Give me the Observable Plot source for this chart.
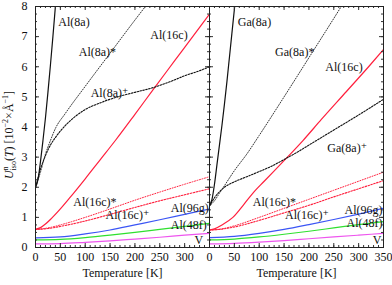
<!DOCTYPE html>
<html><head><meta charset="utf-8">
<script src="https://cdn.jsdelivr.net/npm/d3@7"></script>
<script src="https://cdn.jsdelivr.net/npm/@observablehq/plot@0.6"></script>
<style>
body{margin:0;background:#fff;}
#c{position:relative;width:392px;height:285px;overflow:hidden;font-family:"Liberation Serif","Times New Roman","DejaVu Serif",serif;}
#c svg{position:absolute;top:0;overflow:visible;}
#c svg text{font-family:"Liberation Serif","Times New Roman","DejaVu Serif",serif !important;}
</style>
</head><body><div id="c"></div>
<script>
// ---------- data: [Temperature K, U (10^-2 Å^-1)] ----------
// Left panel (Al compound)
const L_Al8a      = [[0,2.0],[5,2.25],[10,2.85],[15,3.55],[20,4.3],[25,5.15],[30,6.05],[35,7.0],[40,8.0],[45,9.0]];
const L_Al8a_star = [[0,2.0],[10,2.5],[20,3.1],[30,3.55],[40,3.95],[60,4.45],[100,5.35],[150,6.45],[200,7.55],[221,8.0],[240,8.4]];
const L_Al8a_plus = [[0,2.0],[10,2.6],[20,3.05],[30,3.4],[40,3.65],[60,4.05],[80,4.35],[100,4.58],[130,4.8],[165,5.0],[200,5.15],[237,5.31],[270,5.5],[300,5.7],[332,5.88],[350,6.0]];
const L_Al16c     = [[0,0.6],[10,0.66],[20,0.78],[30,0.93],[50,1.28],[70,1.67],[100,2.28],[130,2.91],[161,3.56],[200,4.42],[237,5.25],[280,6.2],[332,7.35],[350,7.75]];
const L_Al16c_star= [[0,0.6],[25,0.65],[50,0.75],[100,1.0],[150,1.28],[200,1.57],[250,1.84],[300,2.1],[350,2.35]];
const L_Al16c_plus= [[0,0.6],[25,0.63],[50,0.7],[100,0.88],[150,1.1],[200,1.33],[250,1.55],[300,1.75],[350,1.95]];
const L_Al96g     = [[0,0.32],[50,0.35],[100,0.45],[150,0.58],[200,0.75],[250,0.92],[300,1.1],[350,1.28]];
const L_Al48f     = [[0,0.25],[50,0.27],[100,0.33],[150,0.41],[200,0.5],[250,0.6],[300,0.7],[350,0.8]];
const L_V         = [[0,0.12],[50,0.13],[100,0.17],[150,0.22],[200,0.28],[250,0.34],[300,0.41],[350,0.47]];
// Right panel (Ga compound)
const R_Ga8a      = [[0,1.38],[5,1.6],[10,2.1],[15,2.75],[20,3.4],[25,4.05],[30,4.75],[35,5.5],[40,6.3],[45,7.1],[50,7.9],[55,8.7]];
const R_Ga8a_star = [[0,1.38],[10,1.55],[20,1.8],[30,2.05],[50,2.55],[75,3.1],[100,3.72],[150,5.0],[200,6.3],[265,8.0],[280,8.4]];
const R_Ga8a_plus = [[0,1.38],[10,1.65],[20,1.85],[30,2.0],[50,2.18],[75,2.35],[100,2.52],[125,2.7],[150,2.92],[175,3.15],[200,3.4],[250,3.9],[300,4.4],[350,4.92]];
const R_Al16c     = [[0,0.58],[10,0.62],[25,0.75],[47,1.0],[70,1.45],[87,1.8],[110,2.2],[148,2.85],[188,3.55],[225,4.25],[275,5.17],[320,6.0],[350,6.57]];
const R_Al16c_star= [[0,0.58],[25,0.62],[50,0.72],[100,1.0],[150,1.3],[200,1.6],[250,1.9],[300,2.2],[350,2.5]];
const R_Al16c_plus= [[0,0.58],[25,0.61],[50,0.68],[100,0.9],[150,1.15],[200,1.4],[250,1.68],[300,1.95],[350,2.22]];
const R_Al96g     = [[0,0.33],[50,0.37],[100,0.47],[150,0.6],[200,0.76],[250,0.93],[300,1.11],[350,1.3]];
const R_Al48f     = [[0,0.25],[50,0.28],[100,0.35],[150,0.44],[200,0.54],[250,0.65],[300,0.76],[350,0.86]];
const R_V         = [[0,0.12],[50,0.14],[100,0.18],[150,0.23],[200,0.29],[250,0.35],[300,0.41],[350,0.47]];

// tick labels
const xTicksLeft  = [0,50,100,150,200,250,300];
const xTicksRight = [0,50,100,150,200,250,300,350];
const yTicks = [0,1,2,3,4,5,6,7,8];
const xLabel = "Temperature [K]";

// curve labels: [text, T, U, anchor]
const L_labels = [["Al(8a)",46,7.47,"start"],["Al(8a)*",87,6.48,"start"],["Al(16c)",231,7.04,"start"],["Al(8a)\u207A",111,5.12,"start"],
  ["Al(16c)*",76,1.5,"start"],["Al(16c)\u207A",141,1.06,"start"],["Al(96g)",272,1.3,"start"],["Al(48f)",272,0.75,"start"],["V",320,0.23,"start"]];
const R_labels = [["Ga(8a)",57,7.47,"start"],["Ga(8a)*",132,6.48,"start"],["Al(16c)",233,5.98,"start"],["Ga(8a)\u207A",237,3.3,"start"],
  ["Al(16c)*",87,1.5,"start"],["Al(16c)\u207A",152,1.06,"start"],["Al(96g)",348,1.23,"end"],["Al(48f)",348,0.8,"end"],["V",346,0.23,"end"]];

// ---------- styles ----------
const FONT = "Liberation Serif, Times New Roman, DejaVu Serif, serif";
const RED="#ff1f3d", BLUE="#3b55f5", GREEN="#2fe02f", MAG="#ee55ee";
const styleSolid = {strokeWidth:1.2};
const styleStar  = {strokeWidth:1, strokeDasharray:"1,1.6"};
const stylePlus  = {strokeWidth:1.1, strokeDasharray:"1.6,1.4"};

function seriesMarks(list){
  return list.map(([data, stroke, st]) => Plot.line(data, {x:d=>d[0], y:d=>d[1], stroke, curve:"monotone-x", clip:true, ...st}));
}

const xMinor = d3.range(0,351,10), xMajor = d3.range(0,351,50);
const yMinor = d3.range(0,8.001,0.25), yMajor = yTicks;
const H = 285-6-38;

function panel({width, marginLeft, marginRight, series, labels, xTicks, showY}){
  const Wi = width - marginLeft - marginRight;
  const tc = "#333";
  const marks = [
    ...seriesMarks(series),
    Plot.text(labels.filter(d=>d[3]==="start"), {x:d=>d[1], y:d=>d[2], text:d=>d[0], textAnchor:"start", fontSize:12, fontFamily:FONT, fill:"#111", clip:true}),
    Plot.text(labels.filter(d=>d[3]==="end"), {x:d=>d[1], y:d=>d[2], text:d=>d[0], textAnchor:"end", fontSize:12, fontFamily:FONT, fill:"#111", clip:true}),
    // inward ticks
    Plot.ruleX(xMinor, {x:d=>d, insetTop:H-2, stroke:tc}),
    Plot.ruleX(xMinor, {x:d=>d, insetBottom:H-2, stroke:tc}),
    Plot.ruleX(xMajor, {x:d=>d, insetTop:H-4, stroke:tc}),
    Plot.ruleX(xMajor, {x:d=>d, insetBottom:H-4, stroke:tc}),
    Plot.ruleY(yMinor, {y:d=>d, insetRight:Wi-2, stroke:tc}),
    Plot.ruleY(yMinor, {y:d=>d, insetLeft:Wi-2, stroke:tc}),
    Plot.ruleY(yMajor, {y:d=>d, insetRight:Wi-4, stroke:tc}),
    Plot.ruleY(yMajor, {y:d=>d, insetLeft:Wi-4, stroke:tc}),
    Plot.frame({stroke:"#222"}),
    Plot.axisX(xTicks, {tickSize:0, tickPadding:5, fontSize:12, fontFamily:FONT, label:null}),
    Plot.text([xLabel], {frameAnchor:"bottom", dy:29, text:d=>d, fontSize:12, fontFamily:FONT, fill:"#111"})
  ];
  if (showY) marks.push(Plot.axisY(yTicks, {tickSize:0, tickPadding:8, fontSize:12, fontFamily:FONT, label:null}));
  return Plot.plot({
    width, height:285, marginTop:6, marginBottom:38, marginLeft, marginRight,
    x:{domain:[0,350], axis: null},
    y:{domain:[0,8], axis: showY ? undefined : null},
    style:{fontFamily:FONT, fontSize:"12px", background:"transparent", color:"#111"},
    marks
  });
}

const c = document.getElementById("c");
const left = panel({width:210, marginLeft:35, marginRight:1, xTicks:xTicksLeft, showY:true, labels:L_labels,
  series:[[L_V,MAG,styleSolid],[L_Al48f,GREEN,styleSolid],[L_Al96g,BLUE,styleSolid],
          [L_Al16c_plus,RED,stylePlus],[L_Al16c_star,RED,styleStar],[L_Al16c,RED,styleSolid],
          [L_Al8a_plus,"#111",stylePlus],[L_Al8a_star,"#333",styleStar],[L_Al8a,"#111",styleSolid]]});
left.style.left = "0px";
const right = panel({width:184, marginLeft:1, marginRight:9, xTicks:xTicksRight, showY:false, labels:R_labels,
  series:[[R_V,MAG,styleSolid],[R_Al48f,GREEN,styleSolid],[R_Al96g,BLUE,styleSolid],
          [R_Al16c_plus,RED,stylePlus],[R_Al16c_star,RED,styleStar],[R_Al16c,RED,styleSolid],
          [R_Ga8a_plus,"#111",stylePlus],[R_Ga8a_star,"#333",styleStar],[R_Ga8a,"#111",styleSolid]]});
right.style.left = "208px";
c.appendChild(left); c.appendChild(right);

// y-axis title
const svg = d3.select(c).append("svg").attr("width",30).attr("height",285).style("left","0px");
const t = svg.append("text").attr("transform","translate(13,135) rotate(-90)").attr("text-anchor","middle")
  .attr("font-family",FONT).attr("font-size",12).attr("fill","#111");
t.append("tspan").attr("font-style","italic").text("U");
t.append("tspan").attr("font-size",8).attr("dy",-5).text("n");
t.append("tspan").attr("font-size",8).attr("dx",-4).attr("dy",8).text("iso");
t.append("tspan").attr("dy",-3).text("(");
t.append("tspan").attr("font-style","italic").text("T");
t.append("tspan").text(") [10");
t.append("tspan").attr("font-size",8).attr("dy",-5).text("\u22122");
t.append("tspan").attr("dy",5).text("\u00D7\u00C5");
t.append("tspan").attr("font-size",8).attr("dy",-5).text("\u22121");
t.append("tspan").attr("dy",5).text("]");
</script></body></html>
